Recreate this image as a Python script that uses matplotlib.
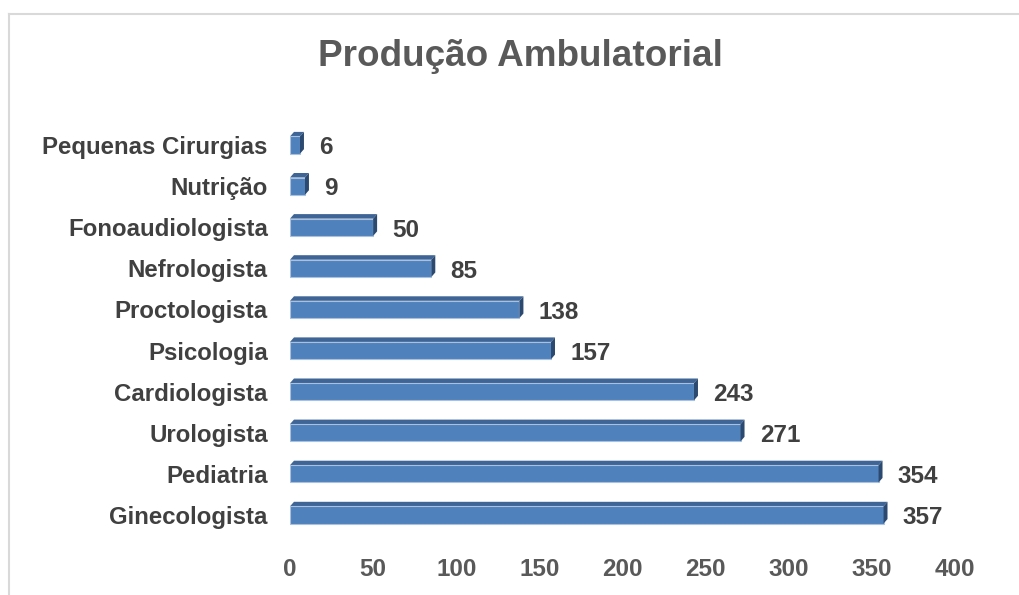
import matplotlib
matplotlib.use("Agg")
import matplotlib.pyplot as plt
from matplotlib.patches import Polygon
from matplotlib.lines import Line2D

plt.rcParams['font.family'] = ['Liberation Sans', 'DejaVu Sans']

# bottom to top
categorias = ["Ginecologista", "Pediatria", "Urologista", "Cardiologista", "Psicologia",
              "Proctologista", "Nefrologista", "Fonoaudiologista", "Nutrição", "Pequenas Cirurgias"]
valores = [357, 354, 271, 243, 157, 138, 85, 50, 9, 6]
xticks = [0, 50, 100, 150, 200, 250, 300, 350, 400]

front = "#4F81BD"
top_c = "#3E6596"
side_c = "#2C4A70"

fig = plt.figure(figsize=(10.2, 5.95), dpi=100)
ax = fig.add_axes([290 / 1020, 1 - 535.5 / 595, 665 / 1020, 411 / 595])

h = 0.42
dx = 2.4
dy = 0.11
pos = list(range(len(categorias)))

ax.barh(pos, valores, height=h, color=front, edgecolor="#A9C1DF", linewidth=0.8, zorder=3)
for i, v in zip(pos, valores):
    t = i + h / 2
    b = i - h / 2
    ax.add_patch(Polygon([(0, t), (v, t), (v + dx, t + dy), (dx, t + dy)],
                         closed=True, facecolor=top_c, edgecolor="none", zorder=2))
    ax.add_patch(Polygon([(v, b), (v + dx, b + dy), (v + dx, t + dy), (v, t)],
                         closed=True, facecolor=side_c, edgecolor="none", zorder=4))
    ax.annotate(str(v), xy=(v + dx, i), xytext=(11, -2), textcoords="offset points",
                ha="left", va="center", fontsize=17.5, fontweight="bold", color="#404040")

ax.set_xlim(0, 400)
ax.set_ylim(-0.5, 9.5)
ax.set_xticks(xticks)
ax.set_yticks(pos)
ax.set_yticklabels(categorias)
ax.tick_params(axis="y", length=0, pad=16, labelsize=17.3, labelcolor="#404040")
ax.tick_params(axis="x", length=0, pad=16, labelsize=17.5, labelcolor="#595959")
for lab in ax.get_xticklabels() + ax.get_yticklabels():
    lab.set_fontweight("bold")
for s in ax.spines.values():
    s.set_visible(False)

fig.text(520 / 1020, 1 - 56 / 595, "Produção Ambulatorial", ha="center", va="center",
         fontsize=26.6, fontweight="bold", color="#595959")

# chart area border (runs off the right and bottom of the image)
fig.add_artist(Line2D([9.5 / 1020, 9.5 / 1020], [0, 1 - 13.5 / 595], color="#D9D9D9", lw=1.5))
fig.add_artist(Line2D([9.5 / 1020, 1], [1 - 13.5 / 595, 1 - 13.5 / 595], color="#D9D9D9", lw=1.5))

fig.savefig("out.png", dpi=100)
